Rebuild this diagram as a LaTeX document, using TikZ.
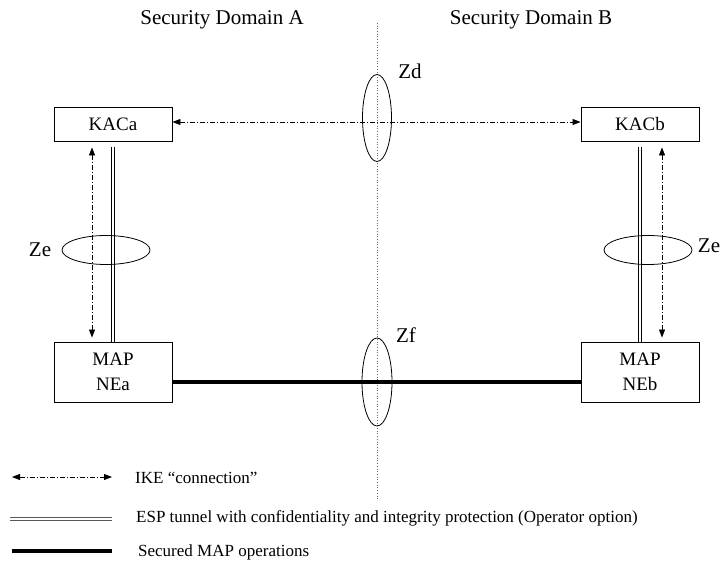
\documentclass[tikz,border=0pt]{standalone}
\usepackage{fontspec}
\setmainfont{Liberation Serif}
\usetikzlibrary{arrows.meta}
\begin{document}
\begin{tikzpicture}[x=1pt,y=-1pt,
  box/.style={draw, line width=0.9pt, minimum width=118pt, inner sep=0pt, font=\fontsize{19}{25}\selectfont, align=center},
  ike/.style={line width=0.8pt, dash pattern=on 5pt off 2pt on 1pt off 2pt, {Triangle[length=8pt,width=6pt]}-{Triangle[length=8pt,width=6pt]}},
  esp/.style={double, double distance=2pt, line width=0.7pt},
  sec/.style={line width=3.5pt},
  zell/.style={draw, line width=0.8pt},
  zlab/.style={font=\fontsize{21}{24}\selectfont},
  head/.style={font=\fontsize{21}{24}\selectfont},
  leg/.style={font=\fontsize{17}{20}\selectfont, anchor=west, inner sep=0pt}]
\useasboundingbox (0,0) rectangle (725,561);
% headings
\node[head] (hA) at (222,20) {Security Domain A};
\node[head] (hB) at (531,20) {Security Domain B};
% domain border
\coordinate (vtop) at (377,23);
\coordinate (vbot) at (377,499);
\draw[dotted, line width=0.7pt, gray!80!black] (vtop) -- (vbot);
% boxes
\node[box, minimum height=34pt] (kaca) at (113,124) {KACa};
\node[box, minimum height=34pt] (kacb) at (640,124) {KACb};
\node[box, minimum height=60pt] (mapa) at (113,372) {MAP\\NEa};
\node[box, minimum height=60pt] (mapb) at (640,372) {MAP\\NEb};
% connectors
\draw[ike] ([yshift=2pt]kaca.east) -- ([yshift=2pt]kacb.west);
\draw[ike] ([xshift=-21pt,yshift=-6pt]kaca.south) -- ([xshift=-21pt,yshift=4pt]mapa.north);
\draw[ike] ([xshift=22pt,yshift=-6pt]kacb.south) -- ([xshift=22pt,yshift=4pt]mapb.north);
\draw[esp] ([yshift=-6pt]kaca.south) -- (mapa.north);
\draw[esp] ([yshift=-6pt]kacb.south) -- (mapb.north);
\draw[sec] ([yshift=-10pt]mapa.east) -- ([yshift=-10pt]mapb.west);
% reference point ellipses
\draw[zell] (377,118) ellipse [x radius=14.5pt, y radius=43.5pt];
\draw[zell] (377,382) ellipse [x radius=15pt, y radius=44pt];
\draw[zell] (106,250) ellipse [x radius=44pt, y radius=14.5pt];
\draw[zell] (648,250) ellipse [x radius=44pt, y radius=14.5pt];
\node[zlab] (zd) at (410,71) {Zd};
\node[zlab] (zf) at (406,335) {Zf};
\node[zlab] (zel) at (40,250) {Ze};
\node[zlab] (zer) at (709,246) {Ze};
% legend
\coordinate (l1a) at (12,477);
\coordinate (l1b) at (112,477);
\coordinate (l2a) at (10,519);
\coordinate (l2b) at (112,519);
\coordinate (l3a) at (12,551);
\coordinate (l3b) at (112,551);
\draw[ike] (l1a) -- (l1b);
\draw[esp, gray!70!black] (l2a) -- (l2b);
\draw[sec] (l3a) -- (l3b);
\node[leg] (t1) at (135,478) {IKE “connection”};
\node[leg] (t2) at (136,518) {ESP tunnel with confidentiality and integrity protection (Operator option)};
\node[leg] (t3) at (138,552) {Secured MAP operations};
\end{tikzpicture}
\end{document}
